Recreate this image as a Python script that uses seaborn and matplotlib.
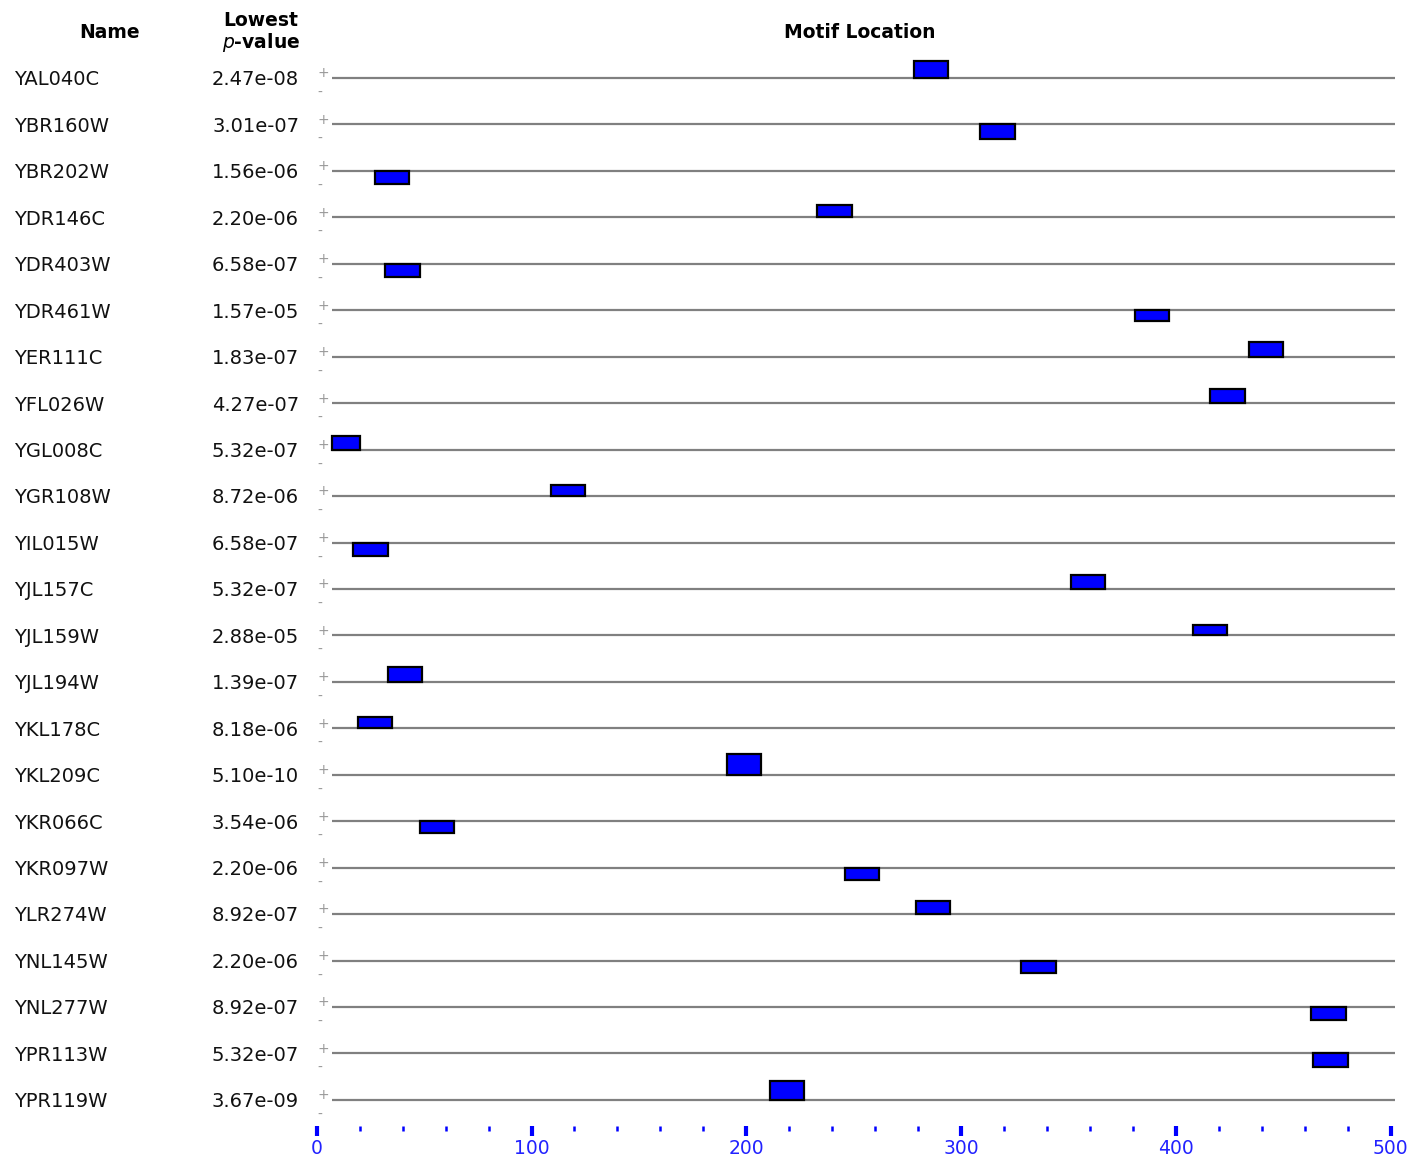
import numpy as np
import pandas as pd
import matplotlib
matplotlib.use('Agg')
import matplotlib.pyplot as plt
import matplotlib.transforms as mtransforms
from matplotlib.ticker import MultipleLocator
import seaborn as sns

sns.set_theme(style='white')
plt.rcParams['font.family'] = ['DejaVu Sans']

# data
names = ['YAL040C', 'YBR160W', 'YBR202W', 'YDR146C', 'YDR403W', 'YDR461W',
         'YER111C', 'YFL026W', 'YGL008C', 'YGR108W', 'YIL015W', 'YJL157C',
         'YJL159W', 'YJL194W', 'YKL178C', 'YKL209C', 'YKR066C', 'YKR097W',
         'YLR274W', 'YNL145W', 'YNL277W', 'YPR113W', 'YPR119W']
pvalues = ['2.47e-08', '3.01e-07', '1.56e-06', '2.20e-06', '6.58e-07', '1.57e-05',
           '1.83e-07', '4.27e-07', '5.32e-07', '8.72e-06', '6.58e-07', '5.32e-07',
           '2.88e-05', '1.39e-07', '8.18e-06', '5.10e-10', '3.54e-06', '2.20e-06',
           '8.92e-07', '2.20e-06', '8.92e-07', '5.32e-07', '3.67e-09']
starts = [278, 309, 27, 233, 32, 381, 434, 416, 4, 109, 17, 351,
          408, 33, 19, 191, 48, 246, 279, 328, 463, 464, 211]
strands = ['+', '-', '-', '+', '-', '-', '+', '+', '+', '+', '-', '+',
           '+', '+', '+', '+', '-', '-', '+', '-', '-', '-', '+']
motif_width = 16
seq_start = 7
seq_end = 502

df = pd.DataFrame({'name': names, 'pvalue': pvalues, 'start': starts, 'strand': strands})
df['row'] = np.arange(len(df))
df['p'] = df['pvalue'].astype(float)

W, H = 1413, 1158
fig = plt.figure(figsize=(W / 100, H / 100), dpi=100)

# axes: x 0 -> 316.7px, 500 -> 1390.7px ; rows spaced 46.45px, first row at 78px
x0, x1 = 316.7, 1390.7
top_px, bot_px = 55, 1126
row0, row_step = 78, 46.45
ax = fig.add_axes([x0 / W, 1 - bot_px / H, (x1 - x0) / W, (bot_px - top_px) / H])
ax.set_xlim(0, 500)
ax.set_ylim((bot_px - row0) / row_step, -(row0 - top_px) / row_step)

# box height scales with -log10(p)
df['h'] = 2.2 * -np.log10(df['p']) / row_step
df['left'] = df['start'].clip(lower=seq_start)
df['width'] = df['start'] + motif_width - df['left']
df['bottom'] = np.where(df['strand'] == '+', df['row'] - df['h'], df['row'])

ax.hlines(df['row'], seq_start, seq_end, color='#808080', lw=1.6, zorder=1, clip_on=False)
ax.bar(df['left'], df['h'], width=df['width'], bottom=df['bottom'], align='edge',
       color='#0000ff', edgecolor='black', linewidth=1.6, zorder=2)

for r in df['row']:
    ax.text(3, r - 0.1, '+', color='#999999', fontsize=10, ha='center', va='center')
    ax.text(1.5, r + 0.32, '-', color='#999999', fontsize=10, ha='center', va='center')

trans = mtransforms.blended_transform_factory(fig.transFigure, ax.transData)
for _, row in df.iterrows():
    ax.text(14 / W, row['row'] + 0.04, row['name'], transform=trans, fontsize=14,
            ha='left', va='center', color='#111111')
    ax.text(299 / W, row['row'] + 0.04, row['pvalue'], transform=trans, fontsize=14,
            ha='right', va='center', color='#111111')

# header
hdr = dict(fontsize=13.5, fontweight='bold', ha='center', va='center', color='black')
fig.text(110 / W, 1 - 32 / H, 'Name', **hdr)
fig.text(261 / W, 1 - 20 / H, 'Lowest', **hdr)
fig.text(261 / W, 1 - 43 / H, r'$\mathbf{\it{p}}$' + '-value', **hdr)
fig.text(860 / W, 1 - 32 / H, 'Motif Location', **hdr)

# scale
sns.despine(ax=ax, left=True, top=True, right=True, bottom=True)
ax.set_yticks([])
ax.xaxis.set_major_locator(MultipleLocator(100))
ax.xaxis.set_minor_locator(MultipleLocator(20))
ax.tick_params(axis='x', which='major', direction='out', length=7, width=3,
               color='#0000ff', labelcolor='#2222ff', labelsize=13.5, pad=2.5, bottom=True)
ax.tick_params(axis='x', which='minor', direction='out', length=3.5, width=1.8,
               color='#0000ff', bottom=True)
ax.grid(False)

fig.savefig('out.png', dpi=100)
